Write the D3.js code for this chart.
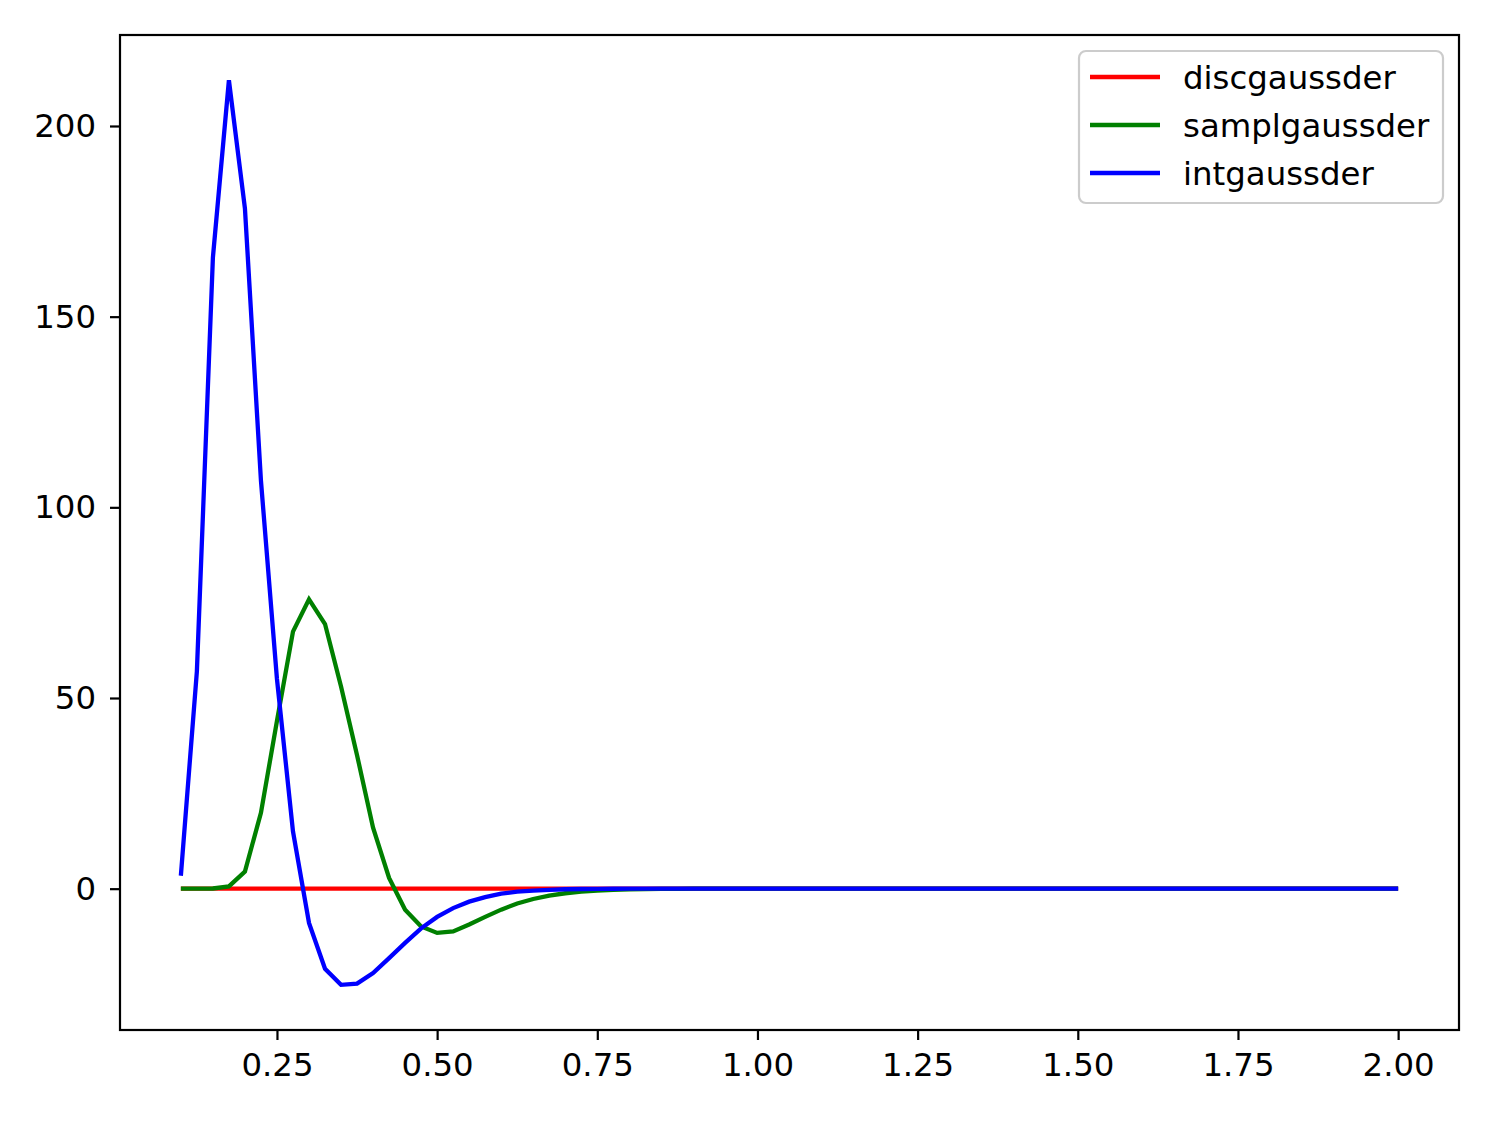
<!DOCTYPE html>
<html>
<head>
<meta charset="utf-8">
<script src="https://cdn.jsdelivr.net/npm/d3@7"></script>
<style>
  html, body { margin: 0; padding: 0; background: #fff; }
  svg { display: block; }
  text { font-family: "DejaVu Sans", sans-serif; fill: #000; }
</style>
</head>
<body>
<script>
// ---- data ----
const xValues = [
  0.1, 0.125, 0.15, 0.175, 0.2, 0.225, 0.25, 0.275, 0.3, 0.325,
  0.35, 0.375, 0.4, 0.425, 0.45, 0.475, 0.5, 0.525, 0.55, 0.575,
  0.6, 0.625, 0.65, 0.675, 0.7, 0.725, 0.75, 0.775, 0.8, 0.825,
  0.85, 0.875, 0.9, 0.925, 0.95, 0.975, 1.0, 1.025, 1.05, 1.075,
  1.1, 1.125, 1.15, 1.175, 1.2, 1.225, 1.25, 1.275, 1.3, 1.325,
  1.35, 1.375, 1.4, 1.425, 1.45, 1.475, 1.5, 1.525, 1.55, 1.575,
  1.6, 1.625, 1.65, 1.675, 1.7, 1.725, 1.75, 1.775, 1.8, 1.825,
  1.85, 1.875, 1.9, 1.925, 1.95, 1.975, 2.0
];
const discgaussder = [
  0, 0, 0, 0, 0, 0, 0, 0, 0, 0,
  0, 0, 0, 0, 0, 0, 0, 0, 0, 0,
  0, 0, 0, 0, 0, 0, 0, 0, 0, 0,
  0, 0, 0, 0, 0, 0, 0, 0, 0, 0,
  0, 0, 0, 0, 0, 0, 0, 0, 0, 0,
  0, 0, 0, 0, 0, 0, 0, 0, 0, 0,
  0, 0, 0, 0, 0, 0, 0, 0, 0, 0,
  0, 0, 0, 0, 0, 0, 0
];
const samplgaussder = [
  0, 0, 0.05, 0.6, 4.5, 19.9, 44, 67.4, 75.9, 69.4,
  53, 35, 16, 2.8, -5.5, -9.9, -11.6, -11.2, -9.4, -7.4,
  -5.5, -3.9, -2.7, -1.8, -1.2, -0.8, -0.5, -0.3, -0.2, -0.1,
  -0.05, -0.03, -0.01, 0, 0, 0, 0, 0, 0, 0,
  0, 0, 0, 0, 0, 0, 0, 0, 0, 0,
  0, 0, 0, 0, 0, 0, 0, 0, 0, 0,
  0, 0, 0, 0, 0, 0, 0, 0, 0, 0,
  0, 0, 0, 0, 0, 0, 0
];
const intgaussder = [
  3.4, 57, 165.5, 212, 178.4, 107, 55, 15, -9, -21,
  -25.2, -24.9, -22.1, -18.2, -14.2, -10.4, -7.4, -5.1, -3.4, -2.2,
  -1.3, -0.8, -0.5, -0.3, -0.15, -0.08, -0.04, -0.02, -0.01, 0,
  0, 0, 0, 0, 0, 0, 0, 0, 0, 0,
  0, 0, 0, 0, 0, 0, 0, 0, 0, 0,
  0, 0, 0, 0, 0, 0, 0, 0, 0, 0,
  0, 0, 0, 0, 0, 0, 0, 0, 0, 0,
  0, 0, 0, 0, 0, 0, 0
];
const seriesNames = ["discgaussder", "samplgaussder", "intgaussder"];
const xTicks = [0.25, 0.5, 0.75, 1.0, 1.25, 1.5, 1.75, 2.0];
const yTicks = [0, 50, 100, 150, 200];

// ---- layout ----
const W = 1494, H = 1121;
const plotLeft = 120, plotRight = 1459, plotTop = 35, plotBottom = 1030;
const colors = ["#ff0000", "#008000", "#0000ff"];
const allSeries = [discgaussder, samplgaussder, intgaussder];

const svg = d3.select("body").append("svg").attr("width", W).attr("height", H);

const xMin = d3.min(xValues), xMax = d3.max(xValues);
const xPad = (xMax - xMin) * 0.05;
const yMin = d3.min(allSeries.flat()), yMax = d3.max(allSeries.flat());
const yPad = (yMax - yMin) * 0.05;

const x = d3.scaleLinear().domain([xMin - xPad, xMax + xPad]).range([plotLeft, plotRight]);
const y = d3.scaleLinear().domain([yMin - yPad, yMax + yPad]).range([plotBottom, plotTop]);

// lines
const line = d3.line().x((d, i) => x(xValues[i])).y(d => y(d));
const plot = svg.append("g");
allSeries.forEach((s, k) => {
  plot.append("path")
    .datum(s)
    .attr("fill", "none")
    .attr("stroke", colors[k])
    .attr("stroke-width", 4.3)
    .attr("stroke-linejoin", "miter")
    .attr("stroke-linecap", "butt")
    .attr("d", line);
});

// axes
const fontSize = 32.4;
const xAxis = svg.append("g").attr("transform", `translate(0,${plotBottom})`)
  .call(d3.axisBottom(x).tickValues(xTicks).tickFormat(d3.format(".2f")).tickSize(10).tickPadding(13));
const yAxis = svg.append("g").attr("transform", `translate(${plotLeft},0)`)
  .call(d3.axisLeft(y).tickValues(yTicks).tickFormat(d3.format("d")).tickSize(10).tickPadding(14));
[xAxis, yAxis].forEach(g => {
  g.select(".domain").remove();
  g.selectAll(".tick line").attr("stroke", "#000").attr("stroke-width", 2.2);
  g.selectAll(".tick text")
    .style("font-family", "'DejaVu Sans', sans-serif")
    .style("font-size", fontSize + "px")
    .attr("fill", "#000");
});

// frame
svg.append("rect")
  .attr("x", plotLeft).attr("y", plotTop)
  .attr("width", plotRight - plotLeft).attr("height", plotBottom - plotTop)
  .attr("fill", "none").attr("stroke", "#000").attr("stroke-width", 2.2);

// legend
const lg = svg.append("g");
lg.append("rect")
  .attr("x", 1079).attr("y", 51).attr("width", 364).attr("height", 152)
  .attr("rx", 7).attr("ry", 7)
  .attr("fill", "#fff").attr("fill-opacity", 0.8)
  .attr("stroke", "#cccccc").attr("stroke-width", 2.2);
seriesNames.forEach((name, k) => {
  const yy = 77 + k * 48;
  lg.append("line")
    .attr("x1", 1090).attr("x2", 1160).attr("y1", yy).attr("y2", yy)
    .attr("stroke", colors[k]).attr("stroke-width", 4.3);
  lg.append("text")
    .attr("x", 1183).attr("y", yy).attr("dy", "0.36em")
    .style("font-size", fontSize + "px")
    .text(name);
});
</script>
</body>
</html>
